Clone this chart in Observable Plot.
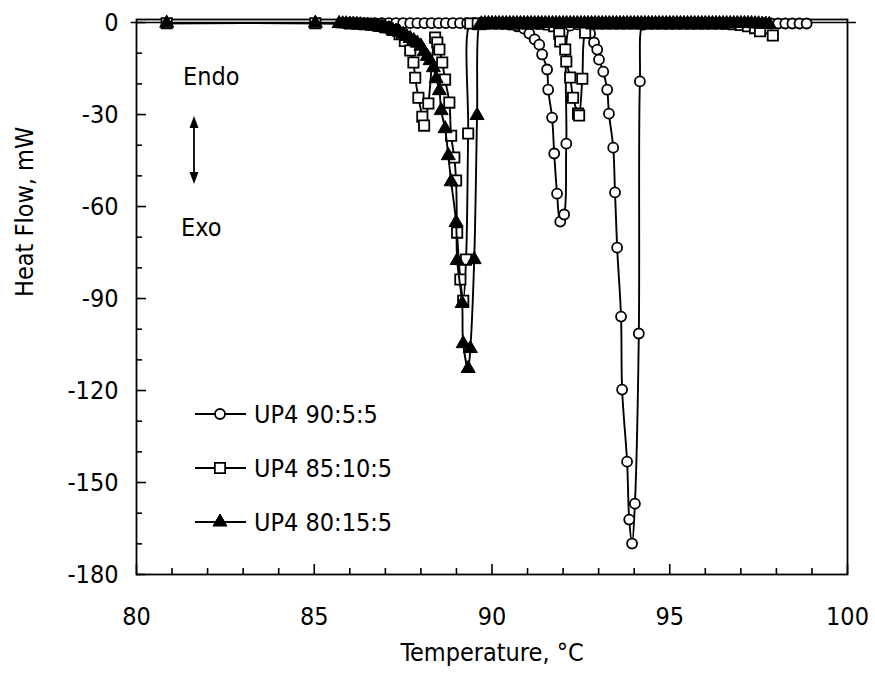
<!DOCTYPE html>
<html><head><meta charset="utf-8">
<script src="https://cdn.jsdelivr.net/npm/d3@7"></script>
<script src="https://cdn.jsdelivr.net/npm/@observablehq/plot@0.6"></script>
<style>
body{margin:0;background:#fff;}
#wrap{position:relative;width:875px;height:686px;}
#wrap svg{position:absolute;left:0;top:0;}
</style></head><body><div id="wrap"></div>
<script>
const seriesNames = ["UP4 90:5:5", "UP4 85:10:5", "UP4 80:15:5"];

// UP4 90:5:5 (open circles)
const tempA = [85.9, 86.1, 86.3, 86.5, 86.7, 86.9, 87.1, 87.3, 87.5, 87.7, 87.9, 88.1, 88.3, 88.5, 88.7, 88.9, 89.1, 89.3, 89.5, 89.7, 89.9, 90.1, 90.3, 90.5, 90.7,
  90.9, 91.05, 91.2, 91.33, 91.41, 91.55, 91.58, 91.69, 91.75, 91.83, 91.92, 92.03, 92.09, 92.2, 92.4, 92.6,
  92.76, 92.87, 92.96, 93.01, 93.13, 93.24, 93.29, 93.41, 93.46, 93.52, 93.63, 93.66, 93.8, 93.86, 93.94, 94.02, 94.13, 94.16, 94.25,
  94.45, 94.65, 94.85, 95.05, 95.25, 95.45, 95.65, 95.85, 96.05, 96.25, 96.45, 96.65, 96.85, 97.05, 97.25, 97.45, 97.65, 97.85, 98.05, 98.25, 98.45, 98.65, 98.85];
const heatA = [-0.2, -0.2, -0.2, -0.2, -0.2, -0.2, -0.2, -0.2, -0.2, -0.2, -0.2, -0.2, -0.2, -0.2, -0.2, -0.2, -0.2, -0.2, -0.2, -0.2, -0.2, -0.2, -0.4, -0.7, -1.2,
  -2.0, -3.6, -5.5, -7.2, -10.4, -15.3, -21.9, -31.0, -42.7, -55.8, -64.9, -62.6, -39.5, -1.0, -0.6, -1.5,
  -3.6, -6.5, -8.8, -12.1, -16.0, -21.9, -29.7, -40.8, -55.4, -73.4, -95.9, -119.7, -143.2, -162.1, -169.9, -156.9, -101.4, -19.2, -0.7,
  -0.3, -0.3, -0.3, -0.3, -0.3, -0.3, -0.3, -0.3, -0.3, -0.3, -0.3, -0.3, -0.3, -0.3, -0.3, -0.3, -0.3, -0.3, -0.3, -0.3, -0.3, -0.3, -0.3];

// UP4 85:10:5 (open squares)
const tempB = [80.85, 85.03, 86.0, 86.2, 86.4, 86.6, 86.8, 87.0, 87.2, 87.4,
  87.55, 87.7, 87.79, 87.84, 87.93, 88.04, 88.09, 88.21, 88.4, 88.46, 88.52, 88.6, 88.68, 88.8, 88.85, 88.94, 88.99, 89.02, 89.11, 89.19, 89.27, 89.33, 89.39,
  89.6, 89.8, 90.0, 90.2, 90.4, 90.6, 90.8, 91.0, 91.2, 91.4, 91.6, 91.75,
  91.89, 91.92, 92.06, 92.09, 92.2, 92.28, 92.42, 92.45, 92.54, 92.62,
  92.8, 93.0, 93.2, 93.4, 93.6, 93.8, 94.0, 94.2, 94.4, 94.6, 94.8, 95.0, 95.2, 95.4, 95.6, 95.8, 96.0, 96.2, 96.4, 96.6, 96.8, 97.0, 97.2, 97.4,
  97.54, 97.9];
const heatB = [-0.2, -0.2, -0.3, -0.4, -0.5, -0.7, -1.0, -1.5, -2.4, -3.8,
  -6.0, -9.1, -13.0, -18.0, -24.5, -30.7, -33.6, -26.4, -4.9, -6.5, -8.8, -13.0, -18.6, -26.1, -36.9, -44.0, -51.5, -68.5, -83.8, -90.7, -77.3, -36.2, -0.3,
  -0.3, -0.3, -0.3, -0.3, -0.3, -0.3, -0.3, -0.3, -0.3, -0.4, -0.6, -1.2,
  -3.6, -6.2, -8.8, -12.7, -17.9, -24.5, -29.7, -30.3, -18.3, -3.3,
  -0.3, -0.3, -0.3, -0.3, -0.3, -0.3, -0.3, -0.3, -0.3, -0.3, -0.3, -0.3, -0.3, -0.3, -0.3, -0.3, -0.3, -0.3, -0.3, -0.4, -0.5, -0.8, -1.2, -1.8,
  -2.8, -4.2];

// UP4 80:15:5 (filled triangles)
const tempC = [80.85, 85.03,
  85.7, 85.8, 85.9, 86.0, 86.1, 86.2, 86.3, 86.4, 86.5, 86.6, 86.7, 86.8, 86.9, 87.0, 87.1, 87.2, 87.3, 87.4,
  87.5, 87.6, 87.7, 87.8, 87.9, 88.0, 88.09, 88.18, 88.26, 88.35,
  88.43, 88.52, 88.57, 88.68, 88.77, 88.85, 88.99, 89.02, 89.16, 89.19, 89.33, 89.39, 89.5, 89.58, 89.64,
  89.7, 89.8, 89.9, 90.0, 90.1, 90.2, 90.3, 90.4, 90.5, 90.6,
  90.7, 90.8, 90.9, 91.0, 91.1, 91.2, 91.3, 91.4, 91.5, 91.6,
  91.7, 91.8, 91.9, 92.0, 92.1, 92.2, 92.3, 92.4, 92.5, 92.6,
  92.7, 92.8, 92.9, 93.0, 93.1, 93.2, 93.3, 93.4, 93.5, 93.6,
  93.7, 93.8, 93.9, 94.0, 94.1, 94.2, 94.3, 94.4, 94.5, 94.6,
  94.7, 94.8, 94.9, 95.0, 95.1, 95.2, 95.3, 95.4, 95.5, 95.6,
  95.7, 95.8, 95.9, 96.0, 96.1, 96.2, 96.3, 96.4, 96.5, 96.6,
  96.7, 96.8, 96.9, 97.0, 97.1, 97.2, 97.3, 97.4, 97.5, 97.6,
  97.7, 97.8];
const heatC = [-0.2, -0.2,
  -0.3, -0.4, -0.4, -0.5, -0.5, -0.6, -0.7, -0.8, -0.9, -1.0, -1.1, -1.3, -1.5, -1.7, -2.0, -2.4, -2.8, -3.2,
  -3.8, -4.5, -5.2, -5.9, -6.7, -7.7, -9.5, -11.0, -12.4, -14.7,
  -18.3, -22.2, -28.7, -34.6, -43.4, -51.9, -65.2, -77.6, -91.6, -104.7, -112.8, -106.3, -77.3, -30.3, -1.0,
  -0.4, -0.3, -0.3, -0.3, -0.3, -0.3, -0.3, -0.3, -0.3, -0.3,
  -0.3, -0.3, -0.3, -0.3, -0.3, -0.3, -0.3, -0.3, -0.3, -0.3,
  -0.3, -0.3, -0.3, -0.3, -0.3, -0.3, -0.3, -0.3, -0.3, -0.3,
  -0.3, -0.3, -0.3, -0.3, -0.3, -0.3, -0.3, -0.3, -0.3, -0.3,
  -0.3, -0.3, -0.3, -0.3, -0.3, -0.3, -0.3, -0.3, -0.3, -0.3,
  -0.3, -0.3, -0.3, -0.3, -0.3, -0.3, -0.3, -0.3, -0.3, -0.3,
  -0.3, -0.3, -0.3, -0.3, -0.3, -0.3, -0.3, -0.3, -0.3, -0.3,
  -0.3, -0.3, -0.3, -0.3, -0.3, -0.3, -0.3, -0.4, -0.4, -0.5,
  -0.5, -0.6];

const xMajorTicks = [80, 85, 90, 95, 100];
const xMinorTicks = [81, 82, 83, 84, 86, 87, 88, 89, 91, 92, 93, 94, 96, 97, 98, 99];
const yMajorTicks = [0, -30, -60, -90, -120, -150, -180];
const yMinorTicks = [-10, -20, -40, -50, -70, -80, -100, -110, -130, -140, -160, -170];
const zeroLineSpan = [79.85, 100.25];
const xTitle = "Temperature, °C";
const yTitle = "Heat Flow, mW";

const rows = (name, t, h) => t.map((v, i) => ({s: name, T: v, H: h[i]}));
const dA = rows(seriesNames[0], tempA, heatA);
const dB = rows(seriesNames[1], tempB, heatB);
const dC = rows(seriesNames[2], tempC, heatC);

const FONT = "'DejaVu Sans Condensed', 'DejaVu Sans', sans-serif";
const FS = 25;
const fmt = d => String(d);
const R = {circle: 5, square: 5.8, triangle: 5.2};

const chart = Plot.plot({
  width: 875, height: 686,
  marginLeft: 136, marginRight: 28, marginTop: 19, marginBottom: 112,
  style: {fontFamily: FONT, fontSize: FS + "px", color: "black", background: "white", overflow: "visible"},
  x: {domain: [80, 100]},
  y: {domain: [-180, 1]},
  marks: [
    Plot.ruleY([0], {x1: zeroLineSpan[0], x2: zeroLineSpan[1], stroke: "black", strokeWidth: 1.6}),
    Plot.frame({stroke: "black", strokeWidth: 1.8}),
    Plot.axisX({ticks: xMinorTicks, tickSize: -6, tickFormat: () => "", label: null, strokeWidth: 1.6}),
    Plot.axisX({ticks: xMajorTicks, tickSize: -10, tickFormat: () => "", label: null, strokeWidth: 1.6}),
    Plot.axisX({ticks: xMajorTicks, tickSize: 0, tickPadding: 33, tickFormat: fmt, label: null, fontSize: FS}),
    Plot.axisY({ticks: yMinorTicks, tickSize: -6, tickFormat: () => "", label: null, strokeWidth: 1.6}),
    Plot.axisY({ticks: yMajorTicks, tickSize: -10, tickFormat: () => "", label: null, strokeWidth: 1.6}),
    Plot.axisY({ticks: yMajorTicks, tickSize: 0, tickPadding: 18, tickFormat: fmt, label: null, fontSize: FS}),
    Plot.text([xTitle], {frameAnchor: "bottom", dy: 86, fontSize: FS}),
    Plot.text([yTitle], {frameAnchor: "left", dx: -112, rotate: -90, fontSize: FS}),
    Plot.line(dA, {x: "T", y: "H", stroke: "black", strokeWidth: 1.9, curve: "catmull-rom"}),
    Plot.dot(dA, {x: "T", y: "H", symbol: "circle", r: R.circle, fill: "white", stroke: "black", strokeWidth: 1.8}),
    Plot.line(dB, {x: "T", y: "H", stroke: "black", strokeWidth: 1.9, curve: "catmull-rom"}),
    Plot.dot(dB, {x: "T", y: "H", symbol: "square", r: R.square, fill: "white", stroke: "black", strokeWidth: 1.8}),
    Plot.line(dC, {x: "T", y: "H", stroke: "black", strokeWidth: 1.9, curve: "catmull-rom"}),
    Plot.dot(dC, {x: "T", y: "H", symbol: "triangle", r: R.triangle, fill: "black", stroke: "black", strokeWidth: 1})
  ]
});
document.getElementById("wrap").appendChild(chart);

// overlay: Endo/Exo annotation and legend
const ov = d3.select("#wrap").append("svg").attr("width", 875).attr("height", 686)
  .style("font-family", FONT).style("font-size", FS + "px");
ov.append("text").attr("x", 183).attr("y", 76).attr("dominant-baseline", "central").text("Endo");
ov.append("text").attr("x", 181).attr("y", 227).attr("dominant-baseline", "central").text("Exo");
ov.append("line").attr("x1", 194).attr("x2", 194).attr("y1", 124).attr("y2", 176).attr("stroke", "black").attr("stroke-width", 1.8);
ov.append("path").attr("d", "M194,116L189.5,128L198.5,128Z").attr("fill", "black");
ov.append("path").attr("d", "M194,184L189.5,172L198.5,172Z").attr("fill", "black");

const legendY = [414, 468, 522];
const syms = [d3.symbolCircle, d3.symbolSquare, d3.symbolTriangle];
const symSize = [Math.PI * R.circle ** 2, Math.PI * R.square ** 2, Math.PI * R.triangle ** 2];
seriesNames.forEach((name, i) => {
  const g = ov.append("g").attr("transform", `translate(0,${legendY[i]})`);
  g.append("line").attr("x1", 195).attr("x2", 246).attr("stroke", "black").attr("stroke-width", 1.8);
  g.append("path").attr("transform", "translate(220,0)").attr("d", d3.symbol(syms[i], symSize[i])())
    .attr("fill", i === 2 ? "black" : "white").attr("stroke", "black").attr("stroke-width", i === 2 ? 1 : 1.8);
  g.append("text").attr("x", 254).attr("dominant-baseline", "central").text(name);
});
</script>
</body></html>
